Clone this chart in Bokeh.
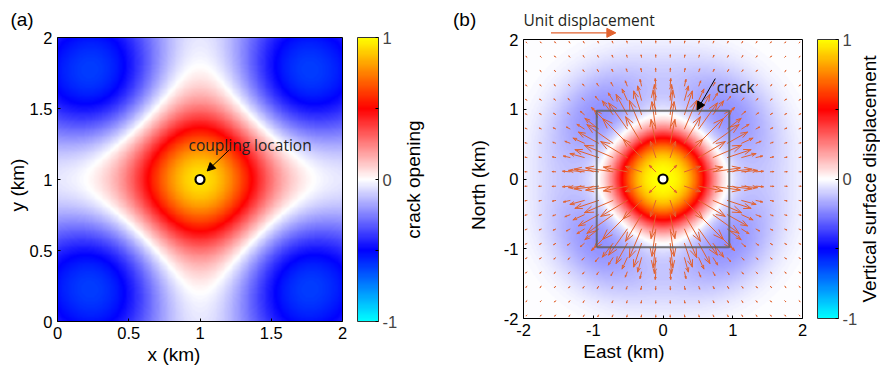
import numpy as np
from bokeh.plotting import figure
from bokeh.layouts import row
from bokeh.models import LinearColorMapper, FixedTicker, Label, Arrow, NormalHead
from bokeh.embed import file_html
from bokeh.resources import INLINE

# ---------------- data ----------------
# colour map anchors (value -> rgb)
cmap_levels = [-1.0, -0.5, 0.0, 0.5, 1.0]
cmap_r = [0, 0, 255, 255, 255]
cmap_g = [255, 0, 255, 0, 255]
cmap_b = [255, 255, 255, 0, 0]

# tick values / labels
a_ticks = [0, 0.5, 1, 1.5, 2]
a_tick_labels = ["0", "0.5", "1", "1.5", "2"]
b_ticks = [-2, -1, 0, 1, 2]
b_tick_labels = ["-2", "-1", "0", "1", "2"]
cb_ticks = [-1, 0, 1]
cb_tick_labels = ["-1", "0", "1"]
cb_minor = [-0.5, 0.5]

# panel extents (km)
a_lim = [0.0, 2.0]
b_lim = [-2.0, 2.0]
cb_lim = [-1.0, 1.0]

# panel (a): crack opening model parameters
a_center = [1.0, 1.0]
a_core_w2 = 0.23
a_lobe_amp = 12.1
a_lobe_w2 = 0.586
a_offset = 0.06

# panel (b): vertical surface displacement model parameters
b_center = [0.0, 0.0]
b_core_c = 0.69
b_core_p = 3.0
b_ring_amp = 0.16
b_ring_w = 1.55
b_ring_aniso = 0.3

# panel (b): horizontal displacement (quiver) parameters
quiver_grid = [-1.95, -1.745, -1.539, -1.334, -1.129, -0.924, -0.718, -0.513, -0.308, -0.103,
               0.103, 0.308, 0.513, 0.718, 0.924, 1.129, 1.334, 1.539, 1.745, 1.95]
h_peak = 0.41        # displacement units
h_peak_r = 0.75      # km
h_aniso = 0.15
h_far = 0.17
unit_arrow_km = 0.93

# crack outline
crack_x = [-0.95, 0.95, 0.95, -0.95, -0.95]
crack_y = [-0.98, -0.98, 0.98, 0.98, -0.98]

ARROW_COLOR = "#e2622f"
AX_FONT = "Liberation Sans"
ANN_FONT = "Open Sans"
TXT_COLOR = "#231f20"

# ---------------- colour mapper ----------------
lv = np.linspace(-1, 1, 256)
pal = []
for v in lv:
    r = int(round(np.interp(v, cmap_levels, cmap_r)))
    g = int(round(np.interp(v, cmap_levels, cmap_g)))
    b = int(round(np.interp(v, cmap_levels, cmap_b)))
    pal.append("#%02x%02x%02x" % (r, g, b))
mapper = LinearColorMapper(palette=pal, low=-1, high=1)


def canvas_fig(width, lim_x, lim_y, box_px, y_loc="left"):
    """Figure whose frame is the whole canvas; the data box lim_x x lim_y is placed at
    pixel box (left, right, top, bottom) inside the canvas."""
    l, r, t, b = box_px
    sx = (r - l) / (lim_x[1] - lim_x[0])
    sy = (b - t) / (lim_y[1] - lim_y[0])
    xr = (lim_x[0] - l / sx, lim_x[1] + (width - r) / sx)
    yr = (lim_y[0] - (369 - b) / sy, lim_y[1] + t / sy)
    p = figure(width=width, height=369, x_range=xr, y_range=yr,
               output_backend="svg", toolbar_location=None, y_axis_location=y_loc,
               min_border=0, min_border_left=0, min_border_right=0,
               min_border_top=0, min_border_bottom=0)
    try:
        p.frame_align = False
    except Exception:
        pass
    p.xgrid.visible = False
    p.ygrid.visible = False
    p.outline_line_color = None
    p.title.visible = False
    return p


def style_axes(p, ticks, labels, xlab, ylab, x_standoff, y_standoff, fixed):
    for ax, lab, so in ((p.xaxis[0], xlab, x_standoff), (p.yaxis[0], ylab, y_standoff)):
        ax.fixed_location = fixed
        ax.ticker = FixedTicker(ticks=ticks)
        ax.major_label_overrides = {t: l for t, l in zip(ticks, labels)}
        ax.minor_tick_line_color = None
        ax.major_tick_in = 3
        ax.major_tick_out = 0
        ax.axis_line_color = None
        ax.major_label_text_font = AX_FONT
        ax.major_label_text_font_size = "16.5px"
        ax.major_label_text_color = "black"
        ax.major_label_standoff = 5
        ax.axis_label = lab
        ax.axis_label_text_font = AX_FONT
        ax.axis_label_text_font_size = "19px"
        ax.axis_label_text_font_style = "normal"
        ax.axis_label_text_color = "black"
        ax.axis_label_standoff = so


def colorbar_fig(width, box_px, label, label_px):
    c = canvas_fig(width, [0.0, 1.0], cb_lim, box_px, y_loc="right")
    grad = np.linspace(cb_lim[0], cb_lim[1], 256).reshape(256, 1)
    c.image(image=[grad], x=0, y=cb_lim[0], dw=1, dh=cb_lim[1] - cb_lim[0], color_mapper=mapper)
    c.line([0, 1, 1, 0, 0], [cb_lim[0], cb_lim[0], cb_lim[1], cb_lim[1], cb_lim[0]],
           line_color="#333333", line_width=1)
    c.xaxis.visible = False
    ax = c.yaxis[0]
    ax.fixed_location = 1
    ax.ticker = FixedTicker(ticks=cb_ticks, minor_ticks=cb_minor)
    ax.major_label_overrides = {t: l for t, l in zip(cb_ticks, cb_tick_labels)}
    ax.major_tick_in = 3
    ax.major_tick_out = 0
    ax.minor_tick_in = 3
    ax.minor_tick_out = 0
    ax.axis_line_color = None
    ax.major_label_text_font = AX_FONT
    ax.major_label_text_font_size = "16.5px"
    ax.major_label_standoff = 4
    l, r, t, b = box_px
    lx = (label_px - l) / (r - l)
    c.add_layout(Label(x=lx, y=0, text=label, angle=np.pi / 2, text_align="center",
                       text_baseline="middle", text_font=AX_FONT, text_font_size="19px",
                       text_color="black"))
    return c


# ================= panel (a) =================
pa = canvas_fig(347, a_lim, a_lim, (57, 342, 37, 321))
xs = np.linspace(a_lim[0], a_lim[1], 320)
X, Y = np.meshgrid(xs, xs)
U = X - a_center[0]
V = Y - a_center[1]
R2 = U ** 2 + V ** 2
fa = np.exp(-R2 / a_core_w2) - a_lobe_amp * (U * V) ** 2 * np.exp(-R2 / a_lobe_w2) - a_offset
pa.image(image=[fa], x=a_lim[0], y=a_lim[0], dw=a_lim[1] - a_lim[0], dh=a_lim[1] - a_lim[0],
         color_mapper=mapper)
pa.line([a_lim[0], a_lim[1], a_lim[1], a_lim[0], a_lim[0]],
        [a_lim[0], a_lim[0], a_lim[1], a_lim[1], a_lim[0]], line_color="black", line_width=1)
style_axes(pa, a_ticks, a_tick_labels, "x (km)", "y (km)", 2, -1, a_lim[0])
pa.xaxis[0].axis_label_standoff = 2
pa.add_layout(Arrow(end=NormalHead(size=8, fill_color="black", line_color="black"),
                    x_start=1.207, y_start=1.21, x_end=1.05, y_end=1.06,
                    line_color="black", line_width=1))
pa.scatter([a_center[0]], [a_center[1]], size=9, fill_color="white", line_color="black", line_width=2.2)
pa.add_layout(Label(x=0.92, y=1.246, text="coupling location", text_font=ANN_FONT,
                    text_font_size="15.5px", text_color=TXT_COLOR, text_baseline="alphabetic"))
pa.add_layout(Label(x=-0.33, y=2.2007, text="(a)", text_font=AX_FONT, text_font_size="19px",
                    text_color="black", text_baseline="top"))

cba = colorbar_fig(93, (10, 31, 37, 321), "crack opening", 66)

# ================= panel (b) =================
pb = canvas_fig(367, b_lim, b_lim, (83, 362, 39, 318))
xb = np.linspace(b_lim[0], b_lim[1], 400)
XB, YB = np.meshgrid(xb, xb)
XB = XB - b_center[0]
YB = YB - b_center[1]
RB2 = XB ** 2 + YB ** 2
RB = np.sqrt(RB2)
cos4 = (XB ** 4 - 6 * XB ** 2 * YB ** 2 + YB ** 4) / np.maximum(RB2, 1e-12) ** 2
ring = b_ring_amp * RB2 * np.exp(-(RB / b_ring_w) ** 4) * (1 - b_ring_aniso * cos4)
fb = np.exp(-(RB / b_core_c) ** b_core_p) - ring
pb.image(image=[fb], x=b_lim[0], y=b_lim[0], dw=b_lim[1] - b_lim[0], dh=b_lim[1] - b_lim[0],
         color_mapper=mapper)
style_axes(pb, b_ticks, b_tick_labels, "East (km)", "North (km)", 2, 12, b_lim[0])

# quiver
G = np.array(quiver_grid)
QX, QY = np.meshgrid(G, G)
QX = QX.ravel()
QY = QY.ravel()
QR = np.hypot(QX, QY)
qcos4 = (QX ** 4 - 6 * QX ** 2 * QY ** 2 + QY ** 4) / QR ** 4
mag = (h_peak * (QR / h_peak_r) * np.exp((1 - (QR / h_peak_r) ** 4) / 4) * (1 - h_aniso * qcos4)
       + h_far * QR / (QR ** 2 + 1) ** 1.5)
L = mag * unit_arrow_km
ang = np.arctan2(QY, QX)
x1 = QX + L * np.cos(ang)
y1 = QY + L * np.sin(ang)
hl = 0.3 * L
ha = np.deg2rad(20)
bx1 = x1 - hl * np.cos(ang - ha)
by1 = y1 - hl * np.sin(ang - ha)
bx2 = x1 - hl * np.cos(ang + ha)
by2 = y1 - hl * np.sin(ang + ha)
pb.segment(x0=QX, y0=QY, x1=x1, y1=y1, line_color=ARROW_COLOR, line_width=1.0, line_cap="round")
pb.multi_line(xs=[[a, b, c] for a, b, c in zip(bx1, x1, bx2)],
              ys=[[a, b, c] for a, b, c in zip(by1, y1, by2)],
              line_color=ARROW_COLOR, line_width=1.0, line_cap="round")

pb.line(crack_x, crack_y, line_color="#606060", line_alpha=0.85, line_width=2)
pb.line([b_lim[0], b_lim[1], b_lim[1], b_lim[0], b_lim[0]],
        [b_lim[0], b_lim[0], b_lim[1], b_lim[1], b_lim[0]], line_color="black", line_width=1)
pb.scatter([b_center[0]], [b_center[1]], size=9, fill_color="white", line_color="black", line_width=2.2)
pb.add_layout(Arrow(end=NormalHead(size=8, fill_color="black", line_color="black"),
                    x_start=0.75, y_start=1.44, x_end=0.49, y_end=0.99,
                    line_color="black", line_width=1))
pb.add_layout(Label(x=0.77, y=1.312, text="crack", text_font=ANN_FONT,
                    text_font_size="15.5px", text_color=TXT_COLOR, text_baseline="alphabetic"))
pb.add_layout(Label(x=-3.011, y=2.437, text="(b)", text_font=AX_FONT, text_font_size="19px",
                    text_color="black", text_baseline="top"))
pb.add_layout(Label(x=-2.0, y=2.275, text="Unit displacement", text_font=ANN_FONT,
                    text_font_size="15.5px", text_color=TXT_COLOR, text_baseline="alphabetic"))
pb.add_layout(Arrow(end=NormalHead(size=9, fill_color=ARROW_COLOR, line_color=ARROW_COLOR),
                    x_start=-1.606, y_start=2.095, x_end=-1.606 + unit_arrow_km, y_end=2.095,
                    line_color=ARROW_COLOR, line_width=1.2))

cbb = colorbar_fig(73, (10, 31, 39, 318), "Vertical surface displacement", 62)

layout = row(pa, cba, pb, cbb, spacing=0)
open("out.html", "w").write(file_html(layout, INLINE))
